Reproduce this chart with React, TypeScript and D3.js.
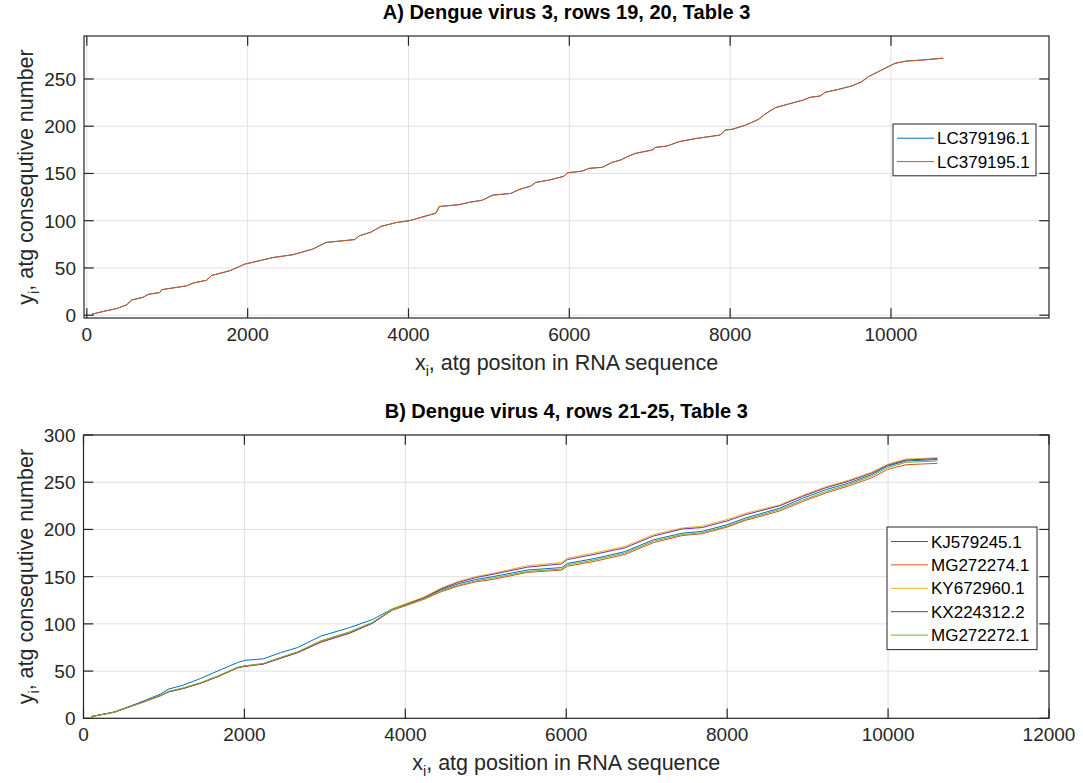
import React from 'react';
import * as d3 from 'd3';

const FONT = '"Liberation Sans", Arial, Helvetica, sans-serif';
const INK = '#262626';
const GRID = '#e0e0e0';

// ---------- Panel A data (Dengue virus 3) ----------
const A_X = [62, 206, 372, 496, 558, 702, 764, 909, 930, 1241, 1323, 1489, 1551, 1778, 1964, 2315, 2563, 2811, 2977, 3329, 3391, 3536, 3660, 3846, 4011, 4259, 4342, 4383, 4632, 4756, 4921, 5045, 5273, 5376, 5521, 5583, 5748, 5934, 5976, 6162, 6245, 6410, 6534, 6638, 6720, 6824, 7030, 7072, 7216, 7361, 7589, 7733, 7878, 7940, 8022, 8189, 8354, 8437, 8561, 8726, 8912, 8995, 9119, 9181, 9346, 9511, 9635, 9718, 9842, 9966, 10050, 10194, 10380, 10649];
const A_LC379196 = [1, 4, 7, 11, 16, 19, 22, 24, 27, 31, 34, 37, 42, 47, 54, 61, 64, 70, 77, 80, 84, 88, 94, 98, 100, 106, 108, 115, 117, 119.4, 121.8, 127, 128.9, 133, 136.7, 140.5, 143, 147, 150.7, 152.5, 155.4, 156.5, 161.8, 164.2, 167.7, 171.3, 174.8, 177.6, 179, 183.6, 187.2, 188.9, 190.7, 196, 196.7, 201, 207.3, 213, 219.6, 223.5, 227.8, 230.6, 232, 235.9, 239, 242.6, 247, 252.4, 257.7, 263, 266.6, 269, 270, 272];
const A_LC379195 = [1, 4, 7, 11, 16, 19, 22, 24, 27, 31, 34, 37, 42, 47, 54, 61, 64, 70, 77, 80, 84, 88, 94, 98, 100, 106, 108, 115, 117, 119.4, 121.8, 127, 128.9, 133, 136.7, 140.5, 143, 147, 150.7, 152.5, 155.4, 156.5, 161.8, 164.2, 167.7, 171.3, 174.8, 177.6, 179, 183.6, 187.2, 188.9, 190.7, 196, 196.7, 201, 207.3, 213, 219.6, 223.5, 227.8, 230.6, 232, 235.9, 239, 242.6, 247, 252.4, 257.7, 263, 266.6, 269, 270, 272];
const A_NAMES = ['LC379196.1', 'LC379195.1'];

// ---------- Panel B data (Dengue virus 4) ----------
const B_X = [96, 381, 524, 738, 952, 1059, 1237, 1451, 1665, 1915, 2000, 2236, 2450, 2663, 2949, 3305, 3590, 3840, 3996, 4232, 4446, 4660, 4874, 5088, 5515, 5943, 6014, 6371, 6728, 7084, 7441, 7691, 8000, 8224, 8652, 8937, 9222, 9507, 9793, 9993, 10221, 10613];
const B_KJ579245 = [1.8, 6.5, 11, 18, 25.5, 31, 35, 42, 50, 59, 61.3, 63, 69.5, 75, 87, 96, 104.5, 116, 120.5, 127.5, 136, 142.5, 147, 150, 157, 159.6, 164, 169.5, 176.5, 189, 196, 198, 205, 212, 222.5, 233, 242, 249, 258, 267, 272.5, 274];
const B_MG272274 = [1.8, 6.4, 10.6, 17, 23.5, 28, 31.5, 37, 44, 53.5, 55, 57.5, 64, 70, 81.5, 91, 101, 114.5, 119, 126, 134, 140, 144.5, 147, 154.5, 157, 161, 166.5, 173.5, 186, 193.5, 195.5, 202.5, 209.5, 219.5, 229.5, 238.5, 246, 254.5, 263.5, 268.5, 270];
const B_KY672960 = [1.8, 6.4, 10.8, 17.2, 24, 28.5, 32, 37.5, 44.5, 54, 55.5, 58, 64, 70, 81, 90.5, 101, 116, 121, 128.5, 138, 145, 150, 153.5, 161.5, 165, 169.5, 175.5, 182, 194.5, 201.5, 203.5, 210.5, 217, 226, 236, 245, 252, 260.5, 269, 274.5, 276];
const B_KX224312 = [1.8, 6.6, 11, 17.5, 24, 28, 31.5, 37, 44, 53.5, 55, 57.5, 63.5, 69.5, 80.5, 90, 100.5, 115, 120, 127.5, 137, 144, 149, 152.5, 160, 163.5, 168, 174, 180.5, 193, 200.5, 202, 209, 215.5, 225, 235, 244, 251, 259.5, 268, 273.5, 275];
const B_MG272272 = [1.8, 6.4, 10.6, 17, 24, 28.5, 32, 37.5, 44.5, 54, 55.5, 58, 64.5, 70.5, 82, 91.5, 101.5, 115, 119.5, 126.5, 135, 141, 145.5, 148.5, 155.5, 158, 162.5, 168, 175, 187.5, 194.5, 196.5, 203.5, 210.5, 221, 231, 240, 247.5, 256.5, 265.5, 271, 272.5];
const B_NAMES = ['KJ579245.1', 'MG272274.1', 'KY672960.1', 'KX224312.2', 'MG272272.1'];

const COLORS = ['#0072BD', '#D95319', '#EDB120', '#7E2F8E', '#77AC30'];

const A_XTICKS = [0, 2000, 4000, 6000, 8000, 10000];
const A_YTICKS = [0, 50, 100, 150, 200, 250];
const B_XTICKS = [0, 2000, 4000, 6000, 8000, 10000, 12000];
const B_YTICKS = [0, 50, 100, 150, 200, 250, 300];

type Series = { name: string; xs: number[]; ys: number[]; color: string };

type PanelProps = {
  left: number; right: number; top: number; bottom: number;
  xDomain: [number, number]; yDomain: [number, number];
  xTicks: number[]; yTicks: number[];
  series: Series[];
  title: string; xLabelRest: string; yLabelRest: string;
  legend: { x: number; y: number; w: number; rowH: number; pad: number };
};

function Panel(p: PanelProps) {
  const x = d3.scaleLinear().domain(p.xDomain).range([p.left, p.right]);
  const y = d3.scaleLinear().domain(p.yDomain).range([p.bottom, p.top]);
  const line = d3.line<[number, number]>().x(d => x(d[0])).y(d => y(d[1]));
  const TL = 9.7;
  const cx = (p.left + p.right) / 2;
  const cy = (p.top + p.bottom) / 2;
  const legH = p.series.length * p.legend.rowH + p.legend.pad * 2;
  return (
    <g>
      {p.xTicks.map(t => (
        <line key={'gx' + t} x1={x(t)} x2={x(t)} y1={p.top} y2={p.bottom} stroke={GRID} strokeWidth={1} />
      ))}
      {p.yTicks.map(t => (
        <line key={'gy' + t} x1={p.left} x2={p.right} y1={y(t)} y2={y(t)} stroke={GRID} strokeWidth={1} />
      ))}
      {p.series.map(s => (
        <path key={s.name} d={line(s.xs.map((v, i) => [v, s.ys[i]] as [number, number])) || ''}
          fill="none" stroke={s.color} strokeWidth={1} strokeLinejoin="round" />
      ))}
      <rect x={p.left} y={p.top} width={p.right - p.left} height={p.bottom - p.top} fill="none" stroke={INK} strokeWidth={1.2} />
      {p.xTicks.map(t => (
        <g key={'tx' + t}>
          <line x1={x(t)} x2={x(t)} y1={p.bottom} y2={p.bottom - TL} stroke={INK} strokeWidth={1.2} />
          <line x1={x(t)} x2={x(t)} y1={p.top} y2={p.top + TL} stroke={INK} strokeWidth={1.2} />
          <text x={x(t)} y={p.bottom + 23} textAnchor="middle" fontSize={19} fill={INK} fontFamily={FONT}>{t}</text>
        </g>
      ))}
      {p.yTicks.map(t => (
        <g key={'ty' + t}>
          <line x1={p.left} x2={p.left + TL} y1={y(t)} y2={y(t)} stroke={INK} strokeWidth={1.2} />
          <line x1={p.right} x2={p.right - TL} y1={y(t)} y2={y(t)} stroke={INK} strokeWidth={1.2} />
          <text x={p.left - 8} y={y(t) + 7} textAnchor="end" fontSize={19} fill={INK} fontFamily={FONT}>{t}</text>
        </g>
      ))}
      <text x={cx} y={p.top - 17} textAnchor="middle" fontSize={20} fontWeight="bold" fill="#000" fontFamily={FONT}>{p.title}</text>
      <text x={cx} y={p.bottom + 52} textAnchor="middle" fontSize={21.5} fill={INK} fontFamily={FONT}>
        x<tspan fontSize={14.5} dy={6}>i</tspan><tspan dy={-6}>{p.xLabelRest}</tspan>
      </text>
      <text transform={`translate(33,${cy}) rotate(-90)`} textAnchor="middle" fontSize={21.5} fill={INK} fontFamily={FONT}>
        y<tspan fontSize={14.5} dy={6}>i</tspan><tspan dy={-6}>{p.yLabelRest}</tspan>
      </text>
      <rect x={p.legend.x} y={p.legend.y} width={p.legend.w} height={legH} fill="#fff" stroke={INK} strokeWidth={1} />
      {p.series.map((s, i) => {
        const ry = p.legend.y + p.legend.pad + p.legend.rowH * (i + 0.5);
        return (
          <g key={'lg' + s.name}>
            <line x1={p.legend.x + 4} x2={p.legend.x + 41} y1={ry} y2={ry} stroke={s.color} strokeWidth={1} />
            <text x={p.legend.x + 44} y={ry + 6} fontSize={17} fill="#000" fontFamily={FONT}>{s.name}</text>
          </g>
        );
      })}
    </g>
  );
}

export default function App() {
  const seriesA: Series[] = [
    { name: A_NAMES[0], xs: A_X, ys: A_LC379196, color: COLORS[0] },
    { name: A_NAMES[1], xs: A_X, ys: A_LC379195, color: COLORS[1] },
  ];
  const bVals = [B_KJ579245, B_MG272274, B_KY672960, B_KX224312, B_MG272272];
  const seriesB: Series[] = B_NAMES.map((n, i) => ({ name: n, xs: B_X, ys: bVals[i], color: COLORS[i] }));
  return (
    <svg width={1083} height={783} style={{ position: 'absolute', left: 0, top: 0, background: '#fff' }}>
      <rect x={0} y={0} width={1083} height={783} fill="#fff" />
      <Panel left={84} right={1049} top={36} bottom={318}
        xDomain={[-35, 11965]} yDomain={[-3, 295.5]}
        xTicks={A_XTICKS} yTicks={A_YTICKS} series={seriesA}
        title="A) Dengue virus 3, rows 19, 20, Table 3"
        xLabelRest=", atg positon in RNA sequence"
        yLabelRest=", atg consequtive number"
        legend={{ x: 893, y: 124, w: 143, rowH: 23.4, pad: 2.5 }} />
      <Panel left={83.5} right={1049} top={435} bottom={718.3}
        xDomain={[0, 12000]} yDomain={[0, 300]}
        xTicks={B_XTICKS} yTicks={B_YTICKS} series={seriesB}
        title="B) Dengue virus 4, rows 21-25, Table 3"
        xLabelRest=", atg position in RNA sequence"
        yLabelRest=", atg consequtive number"
        legend={{ x: 887, y: 527, w: 150, rowH: 23.4, pad: 2.8 }} />
    </svg>
  );
}
